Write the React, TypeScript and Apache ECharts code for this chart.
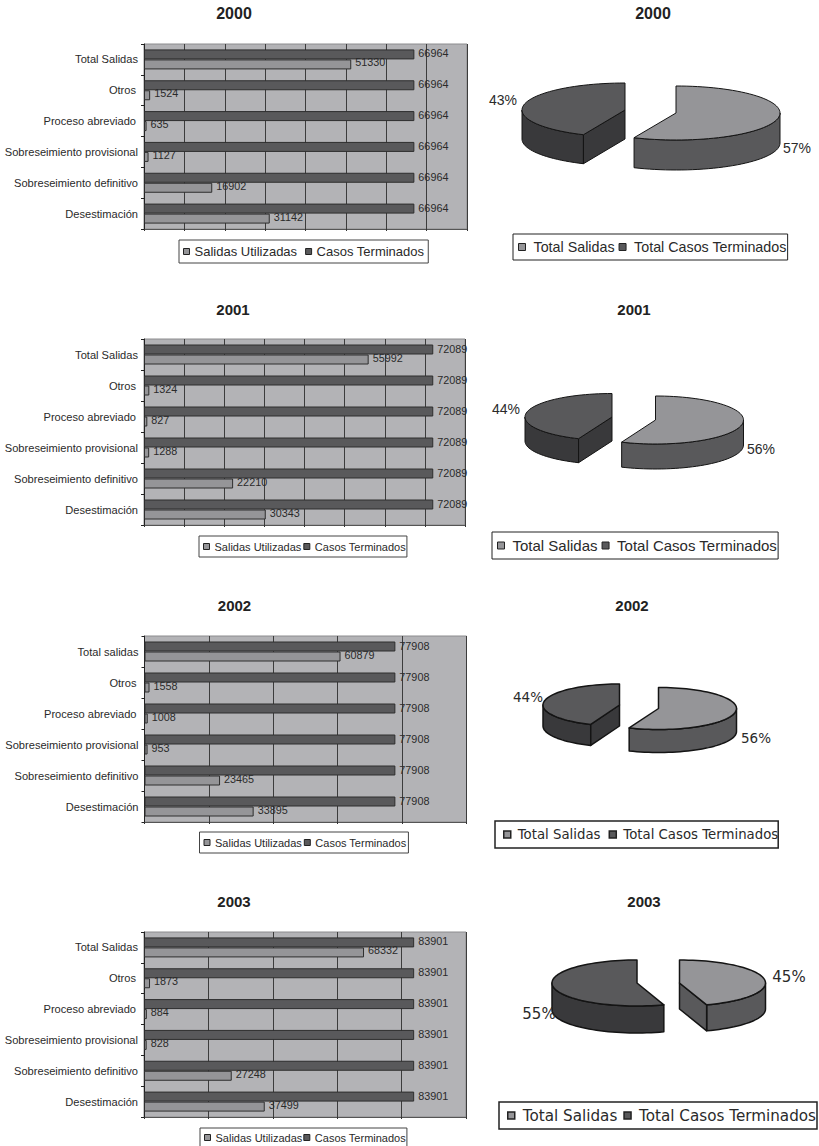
import React, { useEffect, useRef } from "react";
import * as echarts from "echarts";

const CATEGORIES = ["Desestimación", "Sobreseimiento definitivo", "Sobreseimiento provisional", "Proceso abreviado", "Otros", "Total Salidas"];
const CATEGORIES_2002 = ["Desestimación", "Sobreseimiento definitivo", "Sobreseimiento provisional", "Proceso abreviado", "Otros", "Total salidas"];

const SALIDAS_2000 = [31142, 16902, 1127, 635, 1524, 51330];
const SALIDAS_2001 = [30343, 22210, 1288, 827, 1324, 55992];
const SALIDAS_2002 = [33895, 23465, 953, 1008, 1558, 60879];
const SALIDAS_2003 = [37499, 27248, 828, 884, 1873, 68332];

const CASOS_2000 = [66964, 66964, 66964, 66964, 66964, 66964];
const CASOS_2001 = [72089, 72089, 72089, 72089, 72089, 72089];
const CASOS_2002 = [77908, 77908, 77908, 77908, 77908, 77908];
const CASOS_2003 = [83901, 83901, 83901, 83901, 83901, 83901];

// light slice, dark slice, in the order the slices are drawn clockwise from 12 o'clock
const PIE_2000 = [66964, 51330];
const PIE_2001 = [72089, 55992];
const PIE_2002 = [77908, 60879];
const PIE_2003 = [68332, 83901];

const BAR_NAMES = ["Salidas Utilizadas", "Casos Terminados"];
const PIE_NAMES = ["Total Salidas", "Total Casos Terminados"];

const C_LIGHT = "#959598";
const C_DARK = "#59595b";
const C_DARKER = "#39393b";
const C_PLOT = "#b3b3b6";
const C_TEXT = "#2a2a2a";
const SANS = "Liberation Sans";
const DEJA = "DejaVu Sans";

const BAR_CHARTS = [
  { year: "2000", cats: CATEGORIES, sal: SALIDAS_2000, cas: CASOS_2000, max: 80000, step: 10000, left: 144, top: 44, w: 323, h: 185, tx: 234, ty: 13, ts: 16,
    lg: { left: 179, top: 240, size: 13, pad: [5, 4, 5, 4], gap: 8 } },
  { year: "2001", cats: CATEGORIES, sal: SALIDAS_2001, cas: CASOS_2001, max: 80000, step: 10000, left: 144, top: 339, w: 321, h: 186, tx: 233, ty: 309, ts: 15,
    lg: { left: 199, top: 536, size: 11, pad: [5, 1, 5, 4], gap: 2 } },
  { year: "2002", cats: CATEGORIES_2002, sal: SALIDAS_2002, cas: CASOS_2002, max: 100000, step: 20000, left: 144.5, top: 636, w: 322, h: 186, tx: 234.5, ty: 605, ts: 15,
    lg: { left: 199.5, top: 832, size: 11, pad: [5, 2, 5, 4], gap: 2 } },
  { year: "2003", cats: CATEGORIES, sal: SALIDAS_2003, cas: CASOS_2003, max: 100000, step: 20000, left: 144, top: 932, w: 322, h: 185, tx: 234, ty: 901, ts: 15,
    lg: { left: 200, top: 1128, size: 11, pad: [4, 1, 4, 4], gap: 1 } },
];

const PIE_CHARTS = [
  { year: "2000", vals: PIE_2000, tx: 653, ty: 13, ts: 16, font: SANS, fs: 14, lw: 1,
    a: { cx: 676, cy: 113, rx: 104, ry: 27, d: 30, lx: 797, ly: 148 },
    b: { cx: 625, cy: 110, rx: 103, ry: 27, d: 29, lx: 503, ly: 100 },
    lg: { left: 513, top: 234, size: 14.3, pad: [6, 1, 6, 5], gap: 4, bw: 1, tp: 3 } },
  { year: "2001", vals: PIE_2001, tx: 634, ty: 309, ts: 15, font: SANS, fs: 14, lw: 1,
    a: { cx: 655.5, cy: 420, rx: 88, ry: 24, d: 25, lx: 761, ly: 449 },
    b: { cx: 612, cy: 417, rx: 87, ry: 23.5, d: 24, lx: 506, ly: 409 },
    lg: { left: 492, top: 532, size: 15, pad: [6, 1, 6, 5], gap: 4, bw: 1, tp: 3 } },
  { year: "2002", vals: PIE_2002, tx: 632, ty: 605, ts: 15, font: DEJA, fs: 13.5, lw: 1.5,
    a: { cx: 658.5, cy: 708.5, rx: 78, ry: 21, d: 23, lx: 756, ly: 738 },
    b: { cx: 619.5, cy: 705, rx: 76.5, ry: 21, d: 21, lx: 528, ly: 697 },
    lg: { left: 495, top: 821, size: 13.3, pad: [7, 0, 7, 8], gap: 8, bw: 1.5, tp: 2 } },
  { year: "2003", vals: PIE_2003, tx: 644, ty: 901, ts: 15, font: DEJA, fs: 15, lw: 1.5,
    a: { cx: 679.5, cy: 983, rx: 86, ry: 23, d: 26, lx: 789, ly: 977 },
    b: { cx: 637, cy: 983, rx: 85, ry: 23, d: 27, lx: 539, ly: 1014 },
    lg: { left: 499, top: 1102, size: 15.2, pad: [6, 1, 6, 8], gap: 6, bw: 1.5, tp: 3 } },
];

const INDENTED = ["Otros", "Proceso abreviado"];

function pieSlice(pie: any, index: number) {
  const total = pie.vals[0] + pie.vals[1];
  const frac0 = pie.vals[0] / total;
  const a0 = index === 0 ? 0 : frac0 * 360;
  const a1 = index === 0 ? frac0 * 360 : 360;
  const g = index === 0 ? pie.a : pie.b;
  const top = index === 0 ? C_LIGHT : C_DARK;
  const wall = index === 0 ? C_DARK : C_DARKER;
  const rad = (t: number) => (t * Math.PI) / 180;
  const pt = (t: number, dy = 0) => [g.cx + g.rx * Math.sin(rad(t)), g.cy - g.ry * Math.cos(rad(t)) + dy];
  const arc = (from: number, to: number, dy = 0) => {
    const out: number[][] = [];
    const n = Math.max(2, Math.ceil(Math.abs(to - from) / 3));
    for (let i = 0; i <= n; i++) out.push(pt(from + ((to - from) * i) / n, dy));
    return out;
  };
  const style = (fill: string) => ({ fill, stroke: "#141414", lineWidth: pie.lw, lineJoin: "round" });
  const children: any[] = [];
  const w0 = Math.max(a0, 90);
  const w1 = Math.min(a1, 270);
  if (w1 > w0) {
    children.push({ type: "polygon", shape: { points: [...arc(w0, w1), ...arc(w1, w0, g.d)] }, style: style(wall) });
  }
  const faces: number[] = [];
  if (Math.sin(rad(a0)) < -1e-6) faces.push(a0);
  if (Math.sin(rad(a1)) > 1e-6) faces.push(a1);
  faces.forEach((t) => {
    const p = pt(t);
    children.push({
      type: "polygon",
      shape: { points: [[g.cx, g.cy], p, [p[0], p[1] + g.d], [g.cx, g.cy + g.d]] },
      style: style(wall),
    });
  });
  children.push({
    type: "polygon",
    shape: { points: [[g.cx, g.cy], ...arc(a0, a1)] },
    style: style(top),
  });
  children.push({
    type: "text",
    style: {
      text: Math.round((pie.vals[index] / total) * 100) + "%",
      x: g.lx,
      y: g.ly,
      align: "center",
      verticalAlign: "middle",
      fill: C_TEXT,
      fontSize: pie.fs,
      fontFamily: pie.font,
    },
  });
  return { type: "group", children };
}

function buildOption() {
  const title: any[] = [];
  const grid: any[] = [];
  const xAxis: any[] = [];
  const yAxis: any[] = [];
  const legend: any[] = [];
  const series: any[] = [];

  BAR_CHARTS.forEach((c, i) => {
    title.push({
      text: c.year, left: c.tx, top: c.ty, padding: 0, textAlign: "center", textVerticalAlign: "middle",
      textStyle: { fontFamily: SANS, fontWeight: "bold", fontSize: c.ts, color: "#222" },
    });
    grid.push({
      left: c.left, top: c.top, width: c.w, height: c.h, show: true,
      backgroundColor: C_PLOT, borderColor: "#8c8c8e", borderWidth: 1, containLabel: false,
    });
    xAxis.push({
      type: "value", gridIndex: i, min: 0, max: c.max, interval: c.step,
      axisLabel: { show: false },
      axisLine: { show: true, lineStyle: { color: "#555", width: 1 } },
      axisTick: { show: true, length: 2, lineStyle: { color: "#333" } },
      splitLine: { show: true, lineStyle: { color: "#3c3c3c", width: 1 } },
    });
    yAxis.push({
      type: "category", gridIndex: i,
      data: c.cats.map((name) => ({
        value: name,
        textStyle: INDENTED.includes(name) ? { padding: [0, 2, 0, 0] } : {},
      })),
      axisLabel: { fontFamily: SANS, fontSize: 11.1, color: C_TEXT, margin: 6 },
      axisLine: { show: true, onZero: false, lineStyle: { color: "#222", width: 1 } },
      axisTick: { show: true, length: 3, lineStyle: { color: "#222" } },
      splitLine: { show: false },
    });
    const barSeries = (name: string, data: number[], color: string, dy: number) => ({
      type: "bar", name, data, xAxisIndex: i, yAxisIndex: i, barWidth: 10, barGap: 0,
      itemStyle: { color, borderColor: "#2e2e2e", borderWidth: 1 },
      label: {
        show: true, position: "right", distance: 4, offset: [0, dy],
        fontFamily: SANS, fontSize: 10.8, color: C_TEXT,
      },
    });
    // ECharts stacks a horizontal bar group from the top down
    series.push(barSeries(BAR_NAMES[1], c.cas, C_DARK, -1));
    series.push(barSeries(BAR_NAMES[0], c.sal, C_LIGHT, -2));
    legend.push({
      data: BAR_NAMES, left: c.lg.left, top: c.lg.top, orient: "horizontal", padding: c.lg.pad, itemGap: c.lg.gap,
      icon: "rect", itemWidth: 6, itemHeight: 6, selectedMode: false,
      itemStyle: { borderColor: "#222", borderWidth: 1 },
      borderColor: "#444", borderWidth: 1, backgroundColor: "#fff",
      textStyle: { fontFamily: SANS, fontSize: c.lg.size, color: C_TEXT },
    });
  });

  PIE_CHARTS.forEach((p) => {
    title.push({
      text: p.year, left: p.tx, top: p.ty, padding: 0, textAlign: "center", textVerticalAlign: "middle",
      textStyle: { fontFamily: SANS, fontWeight: "bold", fontSize: p.ts, color: "#222" },
    });
    [0, 1].forEach((idx) => {
      series.push({
        type: "custom", name: PIE_NAMES[idx], coordinateSystem: "none", data: [p.vals[idx]],
        silent: true, clip: false,
        itemStyle: { color: idx === 0 ? C_LIGHT : C_DARK },
        renderItem: () => pieSlice(p, idx),
      });
    });
    legend.push({
      data: PIE_NAMES, left: p.lg.left, top: p.lg.top, orient: "horizontal", padding: p.lg.pad, itemGap: p.lg.gap,
      icon: "rect", itemWidth: 7, itemHeight: 7, selectedMode: false,
      itemStyle: { borderColor: "#222", borderWidth: p.lg.bw },
      borderColor: "#222", borderWidth: p.lg.bw, backgroundColor: "#fff",
      textStyle: { fontFamily: p.font, fontSize: p.lg.size, color: C_TEXT, padding: [0, 0, 0, p.lg.tp] },
    });
  });

  return { animation: false, backgroundColor: "#fff", title, grid, xAxis, yAxis, legend, series };
}

export default function App() {
  const ref = useRef<HTMLDivElement>(null);
  useEffect(() => {
    const chart = echarts.init(ref.current!, undefined, { renderer: "svg" });
    chart.setOption(buildOption() as any);
    return () => chart.dispose();
  }, []);
  return <div ref={ref} style={{ position: "absolute", left: 0, top: 0, width: 819, height: 1146 }} />;
}
